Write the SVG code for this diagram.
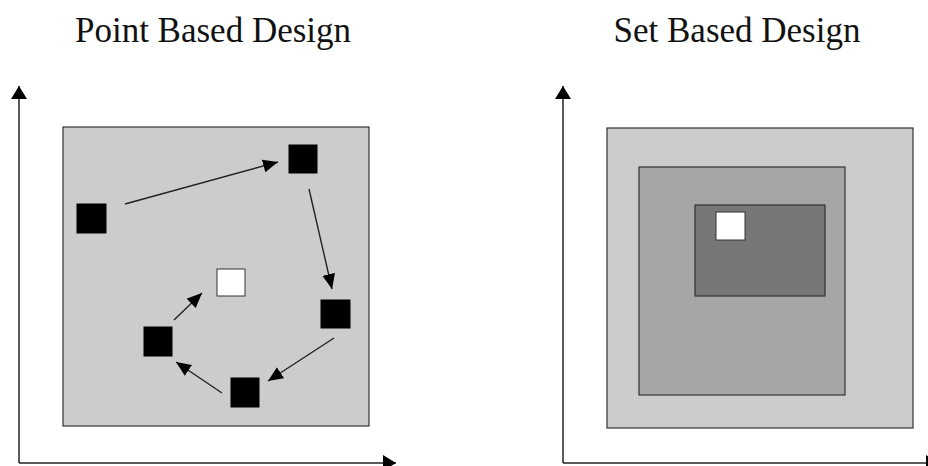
<svg xmlns="http://www.w3.org/2000/svg" width="928" height="466" viewBox="0 0 928 466">
<style>
.title{font-family:"Liberation Serif","Times New Roman",serif;font-size:35px;fill:#111;text-anchor:middle}
.axis{stroke:#222;stroke-width:1.5;fill:none}
.conn{stroke:#222;stroke-width:1.4;fill:none}
.pt{fill:#000;stroke:#000;stroke-width:1}
.best{fill:#fff;stroke:#333;stroke-width:1}
.frame{stroke:#333;stroke-width:1.2}
</style>
<defs>
<marker id="axhead" markerUnits="userSpaceOnUse" markerWidth="14" markerHeight="17" refX="13" refY="8" orient="auto">
<path d="M0,0 L13,8 L0,16 Z" fill="#000"/>
</marker>
<marker id="head" markerUnits="userSpaceOnUse" markerWidth="16" markerHeight="14" refX="15" refY="6.5" orient="auto">
<path d="M0,0 L15,6.5 L0,13 Z" fill="#000"/>
</marker>
</defs>
<rect width="928" height="466" fill="#fff"/>
<text class="title" x="213" y="42">Point Based Design</text>
<text class="title" x="737" y="42">Set Based Design</text>
<g id="axes">
<line class="axis" x1="19" y1="463" x2="19" y2="86" marker-end="url(#axhead)"/>
<line class="axis" x1="19" y1="463" x2="396" y2="463" marker-end="url(#axhead)"/>
<line class="axis" x1="563" y1="463" x2="563" y2="86" marker-end="url(#axhead)"/>
<line class="axis" x1="563" y1="463" x2="939" y2="463" marker-end="url(#axhead)"/>
</g>
<g id="point-space"><rect class="frame" x="63" y="127" width="306" height="299" fill="#cccccc"/></g>
<g id="p1"><rect class="pt" x="77" y="204" width="29" height="29"/></g>
<g id="p2"><rect class="pt" x="289" y="145" width="28" height="28"/></g>
<g id="p3"><rect class="pt" x="321" y="300" width="29" height="28"/></g>
<g id="p4"><rect class="pt" x="231" y="378" width="28" height="29"/></g>
<g id="p5"><rect class="pt" x="144" y="327" width="28" height="29"/></g>
<g id="p-best"><rect class="best" x="217" y="269" width="28" height="27"/></g>
<g id="connectors">
<line class="conn" x1="125" y1="204" x2="278" y2="162" marker-end="url(#head)"/>
<line class="conn" x1="309" y1="189" x2="332" y2="289" marker-end="url(#head)"/>
<line class="conn" x1="334" y1="338" x2="268" y2="381" marker-end="url(#head)"/>
<line class="conn" x1="222" y1="393" x2="176" y2="362" marker-end="url(#head)"/>
<line class="conn" x1="174" y1="320" x2="202" y2="293" marker-end="url(#head)"/>
</g>
<g id="set-outer"><rect class="frame" x="607" y="128" width="306" height="300" fill="#cccccc"/></g>
<g id="set-middle"><rect class="frame" x="639" y="167" width="206" height="228" fill="#a6a6a6"/></g>
<g id="set-inner"><rect class="frame" x="695" y="205" width="130" height="91" fill="#777777"/></g>
<g id="set-best"><rect class="best" x="716" y="212" width="29" height="28"/></g>
</svg>
